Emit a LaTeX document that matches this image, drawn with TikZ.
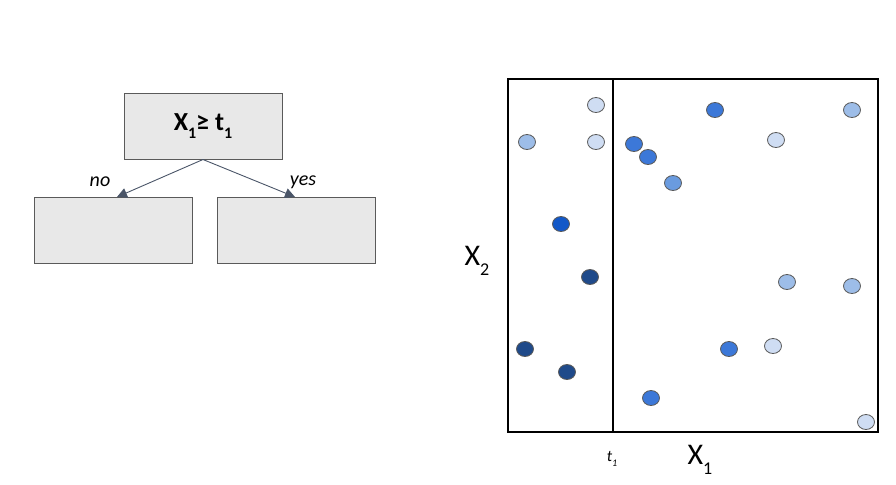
\documentclass[tikz,border=0pt]{standalone}
\usepackage{fontspec}
\setmainfont{Carlito}
\usetikzlibrary{shapes,arrows.meta}
\definecolor{boxfill}{HTML}{E8E8E8}
\definecolor{boxline}{HTML}{5A5A5A}
\definecolor{arrowcol}{HTML}{4A5568}
\definecolor{ptlight}{HTML}{CFDDF3}
\definecolor{ptmidlight}{HTML}{9DBDE8}
\definecolor{ptmedlight}{HTML}{6A9BDF}
\definecolor{ptmed}{HTML}{3C78D8}
\definecolor{ptbright}{HTML}{1258C8}
\definecolor{ptnavy}{HTML}{1F4A8A}
\newcommand{\lowsub}[2]{\raisebox{-0.7ex}{\fontsize{#1}{#1}\selectfont #2}}

\begin{document}
\begin{tikzpicture}[x=0.5pt,y=-0.5pt,
    splitbox/.style={draw=boxline,fill=boxfill,line width=0.5pt,minimum width=79pt,minimum height=33pt,inner sep=0pt},
    branch/.style={draw=arrowcol,line width=0.45pt,-{Triangle[length=5pt,width=5pt]}},
    pt/.style={ellipse,draw=black!65,line width=0.4pt,minimum width=8.5pt,minimum height=7.5pt,inner sep=0pt}]
          \useasboundingbox (0,0) rectangle (896,484);
          % the tree
          \node[splitbox] (root) at (203,126) {\fontsize{13}{15}\selectfont\bfseries X\lowsub{8}{1}≥ t\lowsub{8}{1}};
          \node[splitbox] (no) at (113.5,230.5) {};
          \node[splitbox] (yes) at (296,230.5) {};
          \coordinate (noend) at (117,197);
          \coordinate (yesend) at (295,197);
          \draw[branch] (root.south) -- (noend);
          \draw[branch] (root.south) -- (yesend);
          \node[font=\fontsize{10}{12}\selectfont\itshape] (nolab) at (100,182) {no};
          \node[font=\fontsize{10}{12}\selectfont\itshape] (yeslab) at (303,182) {yes};
          % the feature space
          \node[draw=black,line width=1pt,minimum width=185pt,minimum height=176.5pt,inner sep=0pt] (space) at (693,255.5) {};
          \coordinate (cuttop) at (613,79);
          \coordinate (cutbot) at (613,432);
          \draw[line width=0.75pt] (cuttop) -- (cutbot);
          \node[font=\fontsize{8}{9}\selectfont\itshape] (tlab) at (612,459) {t\lowsub{5}{1}};
          \node[font=\fontsize{15}{17}\selectfont] (xlab) at (700,460) {X\lowsub{9}{1}};
          \node[font=\fontsize{15}{17}\selectfont] (ylab) at (477,261) {X\lowsub{9}{2}};
          % the points
          \node[pt,fill=ptlight] (p1) at (596,105) {};
          \node[pt,fill=ptmidlight] (p2) at (527,142) {};
          \node[pt,fill=ptlight] (p3) at (596,142) {};
          \node[pt,fill=ptmed] (p4) at (715,110) {};
          \node[pt,fill=ptmidlight] (p5) at (852,110) {};
          \node[pt,fill=ptlight] (p6) at (776,140) {};
          \node[pt,fill=ptmed] (p7) at (634,144) {};
          \node[pt,fill=ptmed] (p8) at (648,157) {};
          \node[pt,fill=ptmedlight] (p9) at (673,183) {};
          \node[pt,fill=ptbright] (p10) at (561,224) {};
          \node[pt,fill=ptnavy] (p11) at (590,277) {};
          \node[pt,fill=ptmidlight] (p12) at (787,282) {};
          \node[pt,fill=ptmidlight] (p13) at (852,286) {};
          \node[pt,fill=ptnavy] (p14) at (525,349) {};
          \node[pt,fill=ptmed] (p15) at (729,349) {};
          \node[pt,fill=ptlight] (p16) at (773,346) {};
          \node[pt,fill=ptnavy] (p17) at (567,372) {};
          \node[pt,fill=ptmed] (p18) at (651,398) {};
          \node[pt,fill=ptlight] (p19) at (866,422) {};
        \end{tikzpicture}
\end{document}
